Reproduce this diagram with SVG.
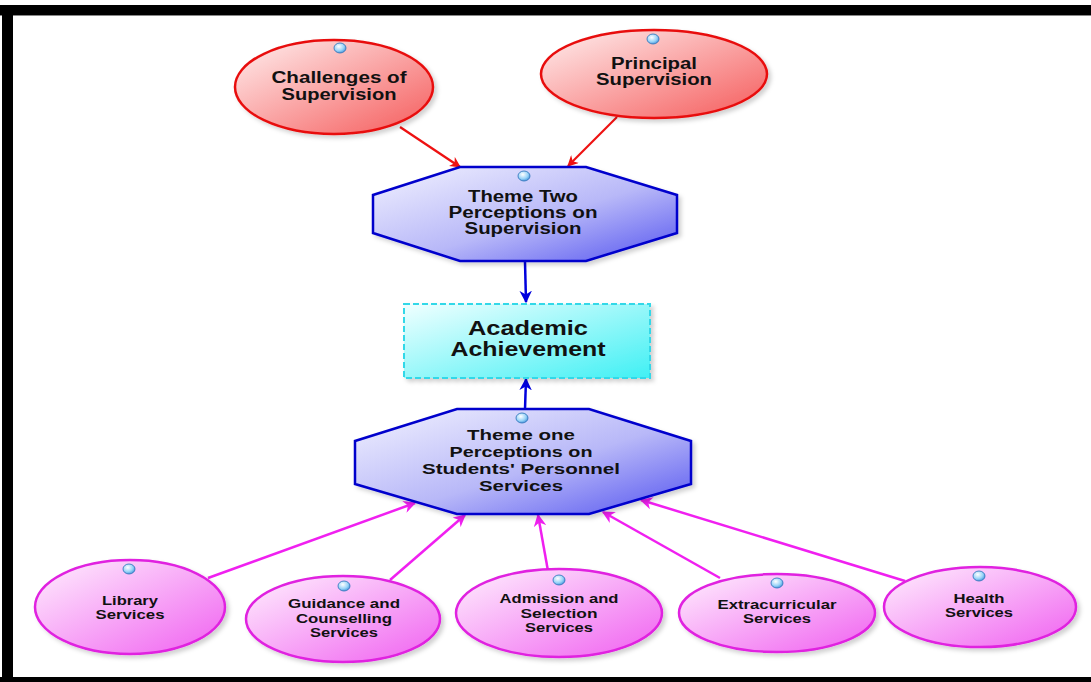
<svg xmlns="http://www.w3.org/2000/svg" width="1091" height="682" viewBox="0 0 1091 682">
<defs>
<linearGradient id="gRed" x1="0" y1="0" x2="1" y2="1">
<stop offset="0" stop-color="#fff0f0"/><stop offset="1" stop-color="#f55a5a"/>
</linearGradient>
<linearGradient id="gBlue" x1="0" y1="0" x2="1" y2="1">
<stop offset="0" stop-color="#f2f2ff"/><stop offset="0.55" stop-color="#b8b8f8"/><stop offset="1" stop-color="#5555f0"/>
</linearGradient>
<linearGradient id="gCyan" x1="0" y1="0" x2="1" y2="1">
<stop offset="0" stop-color="#f0ffff"/><stop offset="1" stop-color="#40f0f4"/>
</linearGradient>
<linearGradient id="gMag" x1="0" y1="0" x2="1" y2="1">
<stop offset="0" stop-color="#fff0fe"/><stop offset="1" stop-color="#f060f0"/>
</linearGradient>
<radialGradient id="gDot" cx="0.4" cy="0.35" r="0.7">
<stop offset="0" stop-color="#ffffff"/><stop offset="0.6" stop-color="#9ad4f8"/><stop offset="1" stop-color="#3d8fd8"/>
</radialGradient>
<filter id="sh" x="-10%" y="-10%" width="130%" height="130%">
<feDropShadow dx="3" dy="3" stdDeviation="2" flood-color="#000" flood-opacity="0.18"/>
</filter>
<marker id="aRed" viewBox="0 0 10 10" refX="9" refY="5" markerWidth="5" markerHeight="5" orient="auto"><path d="M0,0 L10,5 L0,10 L3,5 Z" fill="#ee1111"/></marker>
<marker id="aBlue" viewBox="0 0 10 10" refX="9" refY="5" markerWidth="5" markerHeight="5" orient="auto"><path d="M0,0 L10,5 L0,10 L3,5 Z" fill="#0000dd"/></marker>
<marker id="aMag" viewBox="0 0 10 10" refX="9" refY="5" markerWidth="5" markerHeight="5" orient="auto"><path d="M0,0 L10,5 L0,10 L3,5 Z" fill="#f020f0"/></marker>
</defs>
<style>
text{font-family:"Liberation Sans",Arial,sans-serif;font-weight:bold;fill:#111;text-anchor:middle}
.red{fill:url(#gRed);stroke:#e81010;stroke-width:2.5;filter:url(#sh)}
.blue{fill:url(#gBlue);stroke:#0000cc;stroke-width:2.5;filter:url(#sh)}
.cyan{fill:url(#gCyan);stroke:#30d8e8;stroke-width:2;stroke-dasharray:6 3;filter:url(#sh)}
.mag{fill:url(#gMag);stroke:#e020e0;stroke-width:2.5;filter:url(#sh)}
.dot{fill:url(#gDot);stroke:#2a70b8;stroke-width:0.8}
.cr{stroke:#ee1111;stroke-width:2.2;fill:none;marker-end:url(#aRed)}
.cb{stroke:#0000dd;stroke-width:2.5;fill:none;marker-end:url(#aBlue)}
.cm{stroke:#f020f0;stroke-width:2.5;fill:none;marker-end:url(#aMag)}
.t16{font-size:16px}
.t15{font-size:15px}
.t20{font-size:20px}
.t13{font-size:13.5px}
</style>
<rect x="0" y="0" width="1091" height="682" fill="#ffffff"/>
<g id="frame">
<rect x="0" y="5" width="1091" height="10" fill="#000"/>
<rect x="0" y="15" width="1091" height="1" fill="#888"/>
<rect x="2" y="5" width="11" height="677" fill="#000"/>
<rect x="0" y="677" width="1091" height="5" fill="#000"/>
</g>
<g id="connectors">
<line class="cr" x1="400" y1="127" x2="460" y2="167"/>
<line class="cr" x1="617" y1="117" x2="568" y2="166"/>
<line class="cb" x1="525" y1="262" x2="526" y2="302"/>
<line class="cb" x1="525" y1="409" x2="526" y2="379"/>
<line class="cm" x1="208" y1="578" x2="415" y2="503"/>
<line class="cm" x1="390" y1="580" x2="465" y2="515"/>
<line class="cm" x1="548" y1="571" x2="538" y2="515"/>
<line class="cm" x1="720" y1="578" x2="603" y2="512"/>
<line class="cm" x1="905" y1="581" x2="641" y2="500"/>
</g>
<g id="challenges">
<ellipse class="red" cx="334" cy="87" rx="99" ry="47"/>
<ellipse class="dot" cx="340" cy="48" rx="6" ry="5"/>
<text class="t16" x="339" y="83" textLength="135" lengthAdjust="spacingAndGlyphs">Challenges of</text>
<text class="t16" x="339" y="100" textLength="115" lengthAdjust="spacingAndGlyphs">Supervision</text>
</g>
<g id="principal">
<ellipse class="red" cx="654" cy="74" rx="113" ry="44"/>
<ellipse class="dot" cx="653" cy="39" rx="6" ry="5"/>
<text class="t16" x="654" y="69" textLength="86" lengthAdjust="spacingAndGlyphs">Principal</text>
<text class="t16" x="654" y="85" textLength="116" lengthAdjust="spacingAndGlyphs">Supervision</text>
</g>
<g id="themeTwo">
<polygon class="blue" points="460,167 586,167 677,195 677,233 586,261 460,261 373,233 373,195"/>
<ellipse class="dot" cx="524" cy="176" rx="6" ry="5"/>
<text class="t16" x="523" y="202" textLength="110" lengthAdjust="spacingAndGlyphs">Theme Two</text>
<text class="t16" x="523" y="218" textLength="149" lengthAdjust="spacingAndGlyphs">Perceptions on</text>
<text class="t16" x="523" y="234" textLength="117" lengthAdjust="spacingAndGlyphs">Supervision</text>
</g>
<g id="academic">
<rect class="cyan" x="404" y="304" width="246" height="74"/>
<text class="t20" x="528" y="335" textLength="120" lengthAdjust="spacingAndGlyphs">Academic</text>
<text class="t20" x="528" y="356" textLength="155" lengthAdjust="spacingAndGlyphs">Achievement</text>
</g>
<g id="themeOne">
<polygon class="blue" points="457,409 589,409 691,441 691,484 589,514 457,514 355,484 355,441"/>
<ellipse class="dot" cx="522" cy="418" rx="6" ry="5"/>
<text class="t15" x="521" y="440" textLength="108" lengthAdjust="spacingAndGlyphs">Theme one</text>
<text class="t15" x="521" y="457" textLength="143" lengthAdjust="spacingAndGlyphs">Perceptions on</text>
<text class="t15" x="521" y="474" textLength="198" lengthAdjust="spacingAndGlyphs">Students' Personnel</text>
<text class="t15" x="521" y="491" textLength="84" lengthAdjust="spacingAndGlyphs">Services</text>
</g>
<g id="library">
<ellipse class="mag" cx="130" cy="607" rx="95" ry="47"/>
<ellipse class="dot" cx="129" cy="569" rx="6" ry="5"/>
<text class="t13" x="130" y="605" textLength="56" lengthAdjust="spacingAndGlyphs">Library</text>
<text class="t13" x="130" y="619" textLength="69" lengthAdjust="spacingAndGlyphs">Services</text>
</g>
<g id="guidance">
<ellipse class="mag" cx="343" cy="619" rx="97" ry="43"/>
<ellipse class="dot" cx="344" cy="586" rx="6" ry="5"/>
<text class="t13" x="344" y="608" textLength="112" lengthAdjust="spacingAndGlyphs">Guidance and</text>
<text class="t13" x="344" y="623" textLength="96" lengthAdjust="spacingAndGlyphs">Counselling</text>
<text class="t13" x="344" y="637" textLength="68" lengthAdjust="spacingAndGlyphs">Services</text>
</g>
<g id="admission">
<ellipse class="mag" cx="559" cy="613" rx="103" ry="44"/>
<ellipse class="dot" cx="559" cy="580" rx="6" ry="5"/>
<text class="t13" x="559" y="603" textLength="119" lengthAdjust="spacingAndGlyphs">Admission and</text>
<text class="t13" x="559" y="618" textLength="77" lengthAdjust="spacingAndGlyphs">Selection</text>
<text class="t13" x="559" y="632" textLength="68" lengthAdjust="spacingAndGlyphs">Services</text>
</g>
<g id="extracurricular">
<ellipse class="mag" cx="777" cy="613" rx="98" ry="39"/>
<ellipse class="dot" cx="777" cy="583" rx="6" ry="5"/>
<text class="t13" x="777" y="609" textLength="119" lengthAdjust="spacingAndGlyphs">Extracurricular</text>
<text class="t13" x="777" y="623" textLength="68" lengthAdjust="spacingAndGlyphs">Services</text>
</g>
<g id="health">
<ellipse class="mag" cx="980" cy="607" rx="96" ry="40"/>
<ellipse class="dot" cx="979" cy="576" rx="6" ry="5"/>
<text class="t13" x="979" y="603" textLength="51" lengthAdjust="spacingAndGlyphs">Health</text>
<text class="t13" x="979" y="617" textLength="68" lengthAdjust="spacingAndGlyphs">Services</text>
</g>
</svg>
